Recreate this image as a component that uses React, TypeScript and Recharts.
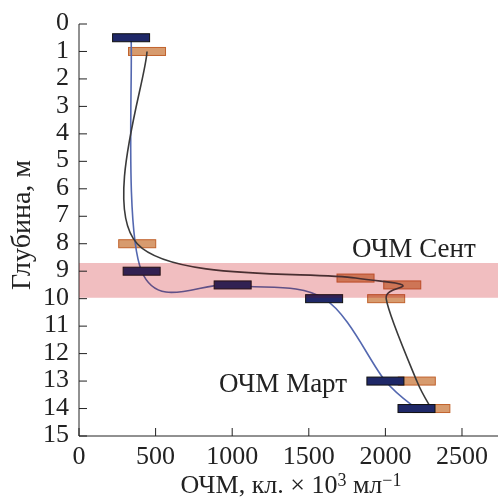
import { ComposedChart, XAxis, YAxis, Line, Scatter, ReferenceArea } from "recharts"

// March and September samples: depth (m) and count (cells x 10^3 per ml)
const marchDepth = [0.5, 9, 9.5, 10, 13, 14]
const marchCount = [340, 409, 1003, 1600, 2000, 2203]
const septDepth = [1, 8, 9.25, 9.5, 10, 13, 14]
const septCount = [444, 380, 1805, 2110, 2005, 2205, 2300]

const depthTicks = [0, 1, 2, 3, 4, 5, 6, 7, 8, 9, 10, 11, 12, 13, 14, 15]
const countTicks = [0, 500, 1000, 1500, 2000, 2500]

// thermocline layer
const layerTop = 8.7
const layerBottom = 9.97

const march = marchDepth.map((depth, i) => ({ depth, ochm: marchCount[i] }))
const sept = septDepth.map((depth, i) => ({ depth, ochm: septCount[i] }))

const FONT = '"Liberation Serif", "Times New Roman", serif'
const INK = "#222"
const serif = { fontFamily: FONT }

// smoothed line like the spreadsheet "smooth line" option (bezier through points)
function smoothCurve(context: any) {
  let pts: number[][] = []
  return {
    areaStart() {},
    areaEnd() {},
    lineStart() {
      pts = []
    },
    point(x: number, y: number) {
      pts.push([+x, +y])
    },
    lineEnd() {
      if (!pts.length) return
      context.moveTo(pts[0][0], pts[0][1])
      for (let i = 0; i < pts.length - 1; i++) {
        const p0 = pts[Math.max(i - 1, 0)]
        const p1 = pts[i]
        const p2 = pts[i + 1]
        const p3 = pts[Math.min(i + 2, pts.length - 1)]
        const d12 = Math.hypot(p2[0] - p1[0], p2[1] - p1[1])
        const d02 = Math.hypot(p2[0] - p0[0], p2[1] - p0[1])
        const d13 = Math.hypot(p3[0] - p1[0], p3[1] - p1[1])
        let f = 1 / 6
        let g = 1 / 6
        if (d02 / 6 > d12 / 2) f = d12 / d02 / 2
        if (d13 / 6 > d12 / 2) g = d12 / d13 / 2
        context.bezierCurveTo(
          p1[0] + (p2[0] - p0[0]) * f,
          p1[1] + (p2[1] - p0[1]) * f,
          p2[0] - (p3[0] - p1[0]) * g,
          p2[1] - (p3[1] - p1[1]) * g,
          p2[0],
          p2[1]
        )
      }
    },
  }
}

const DarkMark = (props: any) => (
  <rect x={props.cx - 18.5} y={props.cy - 4} width={37} height={8} fill="#1f2868" stroke="#111" strokeWidth={1} />
)

const LightMark = (props: any) => (
  <rect
    x={props.cx - 18.5}
    y={props.cy - 4}
    width={37}
    height={8}
    fill="#d08a55"
    fillOpacity={0.85}
    stroke="#c0622c"
    strokeWidth={1}
  />
)

const DepthTick = (props: any) => {
  const { x, y, payload } = props
  return (
    <g>
      <line x1={x} x2={x + 8} y1={y} y2={y} stroke={INK} strokeWidth={1} />
      <text x={x - 10} y={y - 3} dy="0.35em" textAnchor="end" style={serif} fontSize={26} fill={INK}>
        {payload.value}
      </text>
    </g>
  )
}

const CountTick = (props: any) => {
  const { x, y, payload } = props
  return (
    <g>
      <line x1={x} x2={x} y1={y} y2={y - 8} stroke={INK} strokeWidth={1} />
      <text x={x} y={y + 28} textAnchor="middle" style={serif} fontSize={26} fill={INK}>
        {payload.value}
      </text>
    </g>
  )
}

export default function App() {
  return (
    <div style={{ position: "absolute", left: 0, top: 0, background: "#fff", fontFamily: FONT }}>
      <ComposedChart
        width={498}
        height={499}
        layout="vertical"
        margin={{ top: 24, right: 0, bottom: 0, left: 0 }}
        style={serif}
      >
        <XAxis
          type="number"
          dataKey="ochm"
          domain={[0, 2735]}
          ticks={countTicks}
          allowDataOverflow
          height={63}
          tickSize={0}
          tickMargin={0}
          tick={CountTick}
          axisLine={{ stroke: INK }}
        />
        <YAxis
          type="number"
          dataKey="depth"
          domain={[0, 15]}
          ticks={depthTicks}
          interval={0}
          allowDataOverflow
          width={79}
          tickSize={0}
          tickMargin={0}
          tick={DepthTick}
          axisLine={{ stroke: INK }}
        />
        <Scatter data={sept} shape={LightMark} isAnimationActive={false} zIndex={300} />
        <Line
          data={march}
          dataKey="ochm"
          type={smoothCurve as any}
          stroke="#5468b0"
          strokeWidth={1.6}
          dot={false}
          activeDot={false}
          isAnimationActive={false}
          zIndex={400}
        />
        <Line
          data={sept}
          dataKey="ochm"
          type={smoothCurve as any}
          stroke="#3a3a3a"
          strokeWidth={1.6}
          dot={false}
          activeDot={false}
          isAnimationActive={false}
          zIndex={400}
        />
        <Scatter data={march} shape={DarkMark} isAnimationActive={false} zIndex={500} />
        <ReferenceArea
          y1={layerTop}
          y2={layerBottom}
          fill="#f7d4d3"
          fillOpacity={1}
          stroke="none"
          style={{ mixBlendMode: "multiply" }}
          ifOverflow="hidden"
          zIndex={700}
        />
        <ReferenceArea
          y1={layerTop}
          y2={layerBottom}
          fill="#c81e3c"
          fillOpacity={0.12}
          stroke="none"
          ifOverflow="hidden"
          zIndex={710}
        />
        <text x={352} y={257} style={serif} fontSize={27} fill={INK}>
          ОЧМ Сент
        </text>
        <text x={219} y={392} style={serif} fontSize={27} fill={INK}>
          ОЧМ Март
        </text>
        <text x={30} y={225} transform="rotate(-90, 30, 225)" textAnchor="middle" style={serif} fontSize={28} fill={INK}>
          Глубина, м
        </text>
        <text x={291} y={493} textAnchor="middle" style={serif} fontSize={26} fill={INK}>
          ОЧМ, кл. × 10
          <tspan fontSize={18} dy={-7}>
            3
          </tspan>
          <tspan dy={7}> мл</tspan>
          <tspan fontSize={18} dy={-7}>
            −1
          </tspan>
        </text>
      </ComposedChart>
    </div>
  )
}
